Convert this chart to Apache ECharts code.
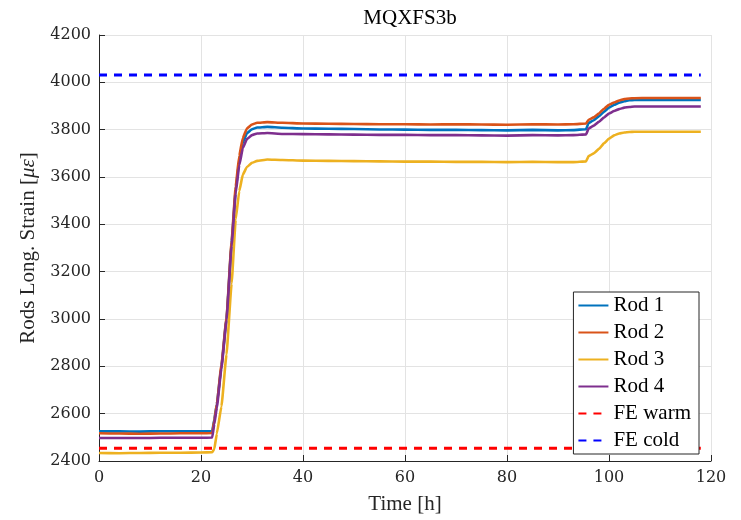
<!DOCTYPE html>
<html>
<head>
<meta charset="utf-8">
<title>MQXFS3b</title>
<script src="https://cdn.jsdelivr.net/npm/echarts@6/dist/echarts.min.js"></script>
<style>
  html, body { margin: 0; padding: 0; background: #fff; }
  #chart { width: 741px; height: 520px; }
</style>
</head>
<body>
<div id="chart"></div>
<script>
// time axis [h], shared by the four rods
var times = [0, 4, 8, 12, 16, 20, 22.2, 22.6, 23.1, 24, 25, 26, 26.8, 27.5, 28.2, 29, 30, 31, 33, 36,
  40, 45, 50, 55, 60, 65, 70, 75, 80, 85, 90, 93, 95.5, 96, 97, 98, 99, 100, 101, 102, 103, 104, 105, 108, 112, 118];

var rod1 = [2525, 2525, 2524, 2526, 2526, 2526, 2526, 2575, 2640, 2800, 3000, 3320, 3545, 3670, 3745, 3785, 3802, 3809, 3812, 3808,
  3805, 3804, 3803, 3801, 3800, 3799, 3799, 3798, 3797, 3799, 3797, 3798, 3802, 3828, 3840, 3856, 3875, 3893, 3905, 3914, 3920, 3924, 3926, 3926, 3926, 3926];
var rod2 = [2517, 2516, 2515, 2516, 2517, 2517, 2518, 2570, 2640, 2805, 3005, 3330, 3560, 3690, 3765, 3805, 3822, 3829, 3832, 3829,
  3826, 3825, 3824, 3823, 3823, 3822, 3823, 3822, 3821, 3823, 3822, 3823, 3826, 3842, 3852, 3868, 3888, 3905, 3915, 3923, 3929, 3932, 3933, 3934, 3934, 3934];
var rod3 = [2434, 2433, 2434, 2435, 2435, 2436, 2437, 2450, 2515, 2630, 2850, 3150, 3420, 3540, 3610, 3642, 3660, 3668, 3674, 3672,
  3669, 3668, 3667, 3666, 3665, 3665, 3664, 3664, 3663, 3664, 3663, 3663, 3666, 3688, 3700, 3718, 3742, 3762, 3776, 3784, 3788, 3790, 3791, 3791, 3791, 3791];
var rod4 = [2497, 2497, 2497, 2498, 2498, 2498, 2499, 2555, 2625, 2790, 2995, 3310, 3530, 3650, 3722, 3760, 3777, 3784, 3786, 3782,
  3781, 3780, 3779, 3778, 3778, 3777, 3777, 3776, 3775, 3777, 3776, 3777, 3780, 3805, 3817, 3833, 3851, 3868, 3879, 3887, 3893, 3896, 3898, 3898, 3898, 3898];

// FE reference levels
var feTimes = [0, 118];
var feWarm = 2454;
var feCold = 4031;

var rodNames = ['Rod 1', 'Rod 2', 'Rod 3', 'Rod 4'];
var rodColors = ['#0072BD', '#D95319', '#EDB120', '#7E2F8E'];
var rodValues = [rod1, rod2, rod3, rod4];

function pairs(xs, ys) {
  return xs.map(function (x, i) { return [x, ys[i]]; });
}
function flat(xs, v) {
  return xs.map(function (x) { return [x, v]; });
}

var serif = '"Liberation Serif", "DejaVu Serif", serif';
var tickFont = '"DejaVu Serif", serif';
var ink = '#262626';

var series = rodNames.map(function (name, i) {
  return {
    name: name,
    type: 'line',
    data: pairs(times, rodValues[i]),
    showSymbol: false,
    symbol: 'none',
    smooth: 0.12,
    smoothMonotone: 'x',
    color: rodColors[i],
    lineStyle: { width: 2.6, color: rodColors[i] },
    z: 3
  };
});
series.push({
  name: 'FE warm',
  type: 'line',
  data: flat(feTimes, feWarm),
  symbol: 'none',
  color: '#FF0000',
  lineStyle: { width: 3, type: [8, 7], color: '#FF0000' },
  z: 2
});
series.push({
  name: 'FE cold',
  type: 'line',
  data: flat(feTimes, feCold),
  symbol: 'none',
  color: '#0000FF',
  lineStyle: { width: 3, type: [8, 7], color: '#0000FF' },
  z: 2
});

var chart = echarts.init(document.getElementById('chart'), null, { renderer: 'canvas' });
chart.setOption({
  backgroundColor: '#fff',
  animation: false,
  title: {
    text: 'MQXFS3b',
    left: 405,
    textAlign: 'center',
    top: 3,
    textStyle: { fontFamily: serif, fontSize: 21, fontWeight: 'normal', color: '#000' }
  },
  grid: { left: 99, right: 30, top: 35, bottom: 58 },
  legend: {
    orient: 'vertical',
    right: 42,
    top: 292,
    padding: [3, 8, 3, 4],
    itemGap: 6,
    itemWidth: 30,
    itemHeight: 14,
    itemStyle: { opacity: 0 },
    backgroundColor: '#fff',
    borderColor: ink,
    borderWidth: 1,
    borderRadius: 0,
    textStyle: { fontFamily: serif, fontSize: 21, color: '#000', lineHeight: 20 },
    data: ['Rod 1', 'Rod 2', 'Rod 3', 'Rod 4', 'FE warm', 'FE cold']
  },
  xAxis: {
    type: 'value',
    min: 0,
    max: 120,
    interval: 20,
    name: 'Time [h]',
    nameLocation: 'middle',
    nameGap: 33,
    nameTextStyle: { fontFamily: serif, fontSize: 21, color: ink },
    axisLine: { show: true, onZero: false, lineStyle: { color: ink, width: 1 } },
    axisTick: { show: true, inside: true, length: 6, lineStyle: { color: ink } },
    axisLabel: { fontFamily: tickFont, fontSize: 16, color: ink, margin: 9 },
    splitLine: { show: true, lineStyle: { color: '#e3e3e3', width: 1 } }
  },
  yAxis: {
    type: 'value',
    min: 2400,
    max: 4200,
    interval: 200,
    name: '{n|Rods Long. Strain [}{i|με}{n|]}',
    nameLocation: 'middle',
    nameGap: 53,
    nameTextStyle: {
      fontFamily: serif, fontSize: 21, color: ink,
      rich: {
        n: { fontFamily: serif, fontSize: 21, color: ink },
        i: { fontFamily: serif, fontSize: 21, color: ink, fontStyle: 'italic' }
      }
    },
    axisLine: { show: true, onZero: false, lineStyle: { color: ink, width: 1 } },
    axisTick: { show: true, inside: true, length: 6, lineStyle: { color: ink } },
    axisLabel: {
      fontFamily: tickFont, fontSize: 16, color: ink, margin: 8,
      formatter: function (v) { return String(v); }
    },
    splitLine: { show: true, lineStyle: { color: '#e3e3e3', width: 1 } }
  },
  series: series
});
</script>
</body>
</html>
